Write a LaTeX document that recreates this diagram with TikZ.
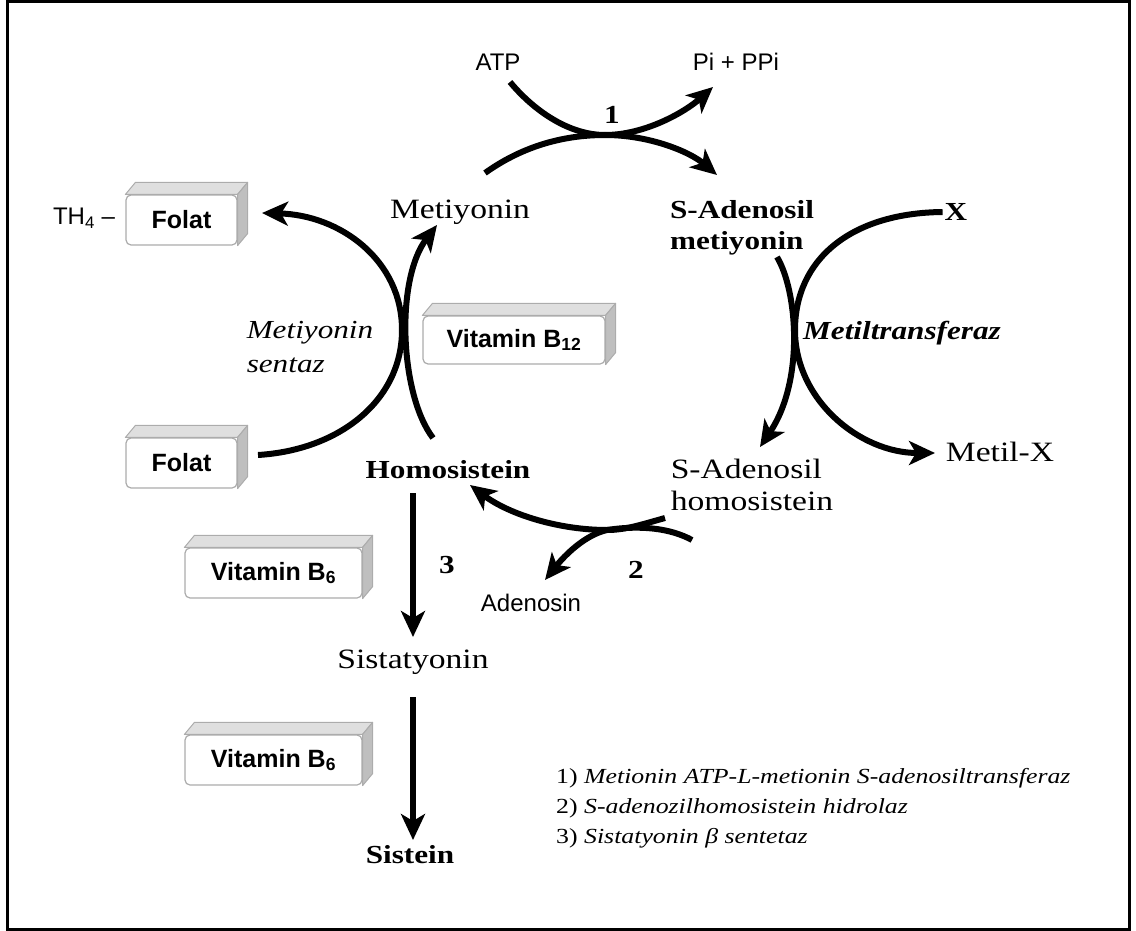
\documentclass[tikz,border=0pt]{standalone}
\usepackage{fontspec}
\setmainfont{Liberation Serif}[FakeStretch=1.2]
\setsansfont{Liberation Sans}
\usetikzlibrary{arrows.meta}

\begin{document}
\begin{tikzpicture}[x=1pt, y=-1pt,
  flow/.style={line width=6pt, -{Stealth[length=26pt,width=24pt,inset=7pt]}},
  mol/.style={font=\fontsize{28}{32}\selectfont, inner sep=2pt},
  bmol/.style={font=\bfseries\fontsize{26}{31}\selectfont, inner sep=2pt},
  enz/.style={font=\itshape\fontsize{26}{34}\selectfont, inner sep=2pt},
  small/.style={font=\sffamily\fontsize{24}{28}\selectfont, inner sep=2pt},
  vitbox/.style={draw=gray!65, line width=1.2pt, rounded corners=5pt, fill=white,
    font=\sffamily\bfseries\fontsize{25}{28}\selectfont, minimum height=50pt}]

  \useasboundingbox (0,0) rectangle (1136,931);

  % --- Frame ---
  \draw[line width=3pt] (7,1.5) rectangle (1129.5,929.5);

  % --- Metabolites ---
  \node[small] (atp) at (498,62) {ATP};
  \node[small] (ppi) at (736,62) {Pi + PPi};
  \node[bmol] (r1) at (612,115) {1};
  \node[mol] (met) at (460,212) {Metiyonin};
  \node[bmol, align=left] (sam) at (742,228) {S-Adenosil\\metiyonin};
  \node[bmol] (x) at (956,212) {X};
  \node[small] (th) at (84,218) {TH\textsubscript{4} –};
  \node[enz, align=left] (sentaz) at (310,347) {Metiyonin\\sentaz};
  \node[font=\bfseries\itshape\fontsize{26}{31}\selectfont] (mtf) at (902,333) {Metiltransferaz};
  \node[bmol] (hcy) at (448,470) {Homosistein};
  \node[mol, align=left] (sah) at (752,485) {S-Adenosil\\homosistein};
  \node[mol] (metx) at (1000,452) {Metil-X};
  \node[bmol] (r3) at (447,565) {3};
  \node[bmol] (r2) at (636,570) {2};
  \node[small] (ado) at (531,603) {Adenosin};
  \node[mol] (cth) at (413,662) {Sistatyonin};
  \node[bmol] (cys) at (410,855) {Sistein};

  % --- Cofactor boxes ---
  \node[vitbox, minimum width=111pt] (folA) at (181.5,220) {Folat};
  \node[vitbox, minimum width=111pt] (folB) at (181.5,463) {Folat};
  \node[vitbox, minimum width=182pt, minimum height=48pt] (b12) at (514,340) {Vitamin B\textsubscript{12}};
  \node[vitbox, minimum width=177pt] (b6a) at (273.5,573) {Vitamin B\textsubscript{6}};
  \node[vitbox, minimum width=177pt] (b6b) at (273.5,760) {Vitamin B\textsubscript{6}};
  \foreach \b in {folA,folB,b12,b6a,b6b} {
    \filldraw[draw=gray!65, fill=gray!25, line width=1pt, line join=round]
      (\b.north west) -- ++(10,-12) -- ([shift={(10,-12)}]\b.north east) -- (\b.north east) -- cycle;
    \filldraw[draw=gray!65, fill=gray!50, line width=1pt, line join=round]
      (\b.north east) -- ++(10,-12) -- ([shift={(10,-12)}]\b.south east) -- (\b.south east) -- cycle;
  }

  % --- Legend ---
  \node[anchor=west, align=left, inner sep=0pt, font=\fontsize{21.5}{30}\selectfont] (legend) at (556,808)
    {1) \textit{Metionin ATP-L-metionin S-adenosiltransferaz}\\
     2) \textit{S-adenozilhomosistein hidrolaz}\\
     3) \textit{Sistatyonin β sentetaz}};

  % --- Connector ends ---
  \coordinate (atpin) at (510,82);
  \coordinate (ppiout) at (713,87);
  \coordinate (metout) at (485,173);
  \coordinate (samin) at (717,175);
  \coordinate (samout) at (777,257);
  \coordinate (sahin) at (760,447);
  \coordinate (metxin) at (935,453);
  \coordinate (hcyout) at (433,438);
  \coordinate (metin) at (437,225);
  \coordinate (folout) at (258,455);
  \coordinate (folin) at (262,213);
  \coordinate (sahout) at (665,518);
  \coordinate (h2oin) at (692,540);
  \coordinate (hcyin) at (470,485);
  \coordinate (adoin) at (545,580);
  \coordinate (m1) at (605,135);
  \coordinate (m2) at (795,330);
  \coordinate (m3) at (402,330);
  \coordinate (m4) at (607,530);

  % --- Reaction 1 ---
  \draw[flow] (atpin) .. controls (535,112) and (570,135) .. (m1)
        .. controls (645,135) and (685,112) .. (ppiout);
  \draw[flow] (metout) .. controls (520,148) and (560,135) .. (m1)
        .. controls (650,135) and (690,152) .. (samin);

  % --- Methyltransferase ---
  \draw[flow] (samout) .. controls (797,290) and (805,380) .. (sahin);
  \draw[flow] (x.west) .. controls (850,213) and (795,260) .. (m2)
        .. controls (795,400) and (860,453) .. (metxin);

  % --- Methionine synthase ---
  \draw[flow] (hcyout) .. controls (400,395) and (395,280) .. (metin);
  \draw[flow] (folout) .. controls (340,450) and (402,400) .. (m3)
        .. controls (402,260) and (340,215) .. (folin);

  % --- Reaction 2 ---
  \draw[flow] (sahout) .. controls (640,525) and (625,530) .. (m4)
        .. controls (560,530) and (510,515) .. (hcyin);
  \draw[flow] (h2oin) .. controls (670,528) and (640,525) .. (m4)
        .. controls (585,535) and (565,555) .. (adoin);

  % --- Transsulfuration ---
  \draw[flow] (413,493) -- (413,637);
  \draw[flow] (413,697) -- (413,840);

\end{tikzpicture}
\end{document}
